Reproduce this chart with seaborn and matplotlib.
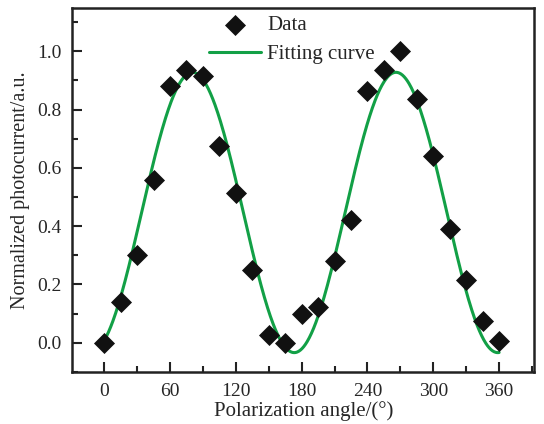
import numpy as np
import pandas as pd
import matplotlib
matplotlib.use('Agg')
import matplotlib.pyplot as plt
import seaborn as sns
from matplotlib.ticker import MultipleLocator

# measured points
angle = [0, 15, 30, 45, 60, 75, 90, 105, 120, 135, 150, 165,
         180, 195, 210, 225, 240, 255, 270, 285, 300, 315, 330, 345, 360]
photocurrent = [0.0, 0.14, 0.30, 0.56, 0.88, 0.935, 0.915, 0.675, 0.514, 0.25, 0.028, 0.0,
                0.10, 0.123, 0.28, 0.42, 0.863, 0.935, 1.0, 0.835, 0.64, 0.39, 0.215, 0.076, 0.005]

# fitting curve parameters: y = y0 + A*cos(2*pi*(x - xc)/w)
fit_y0 = 0.447
fit_A = 0.481
fit_xc = 80.5
fit_w = 185.5

sns.set_style('ticks')
plt.rcParams['font.family'] = ['Liberation Serif', 'DejaVu Serif']
plt.rcParams['mathtext.default'] = 'regular'
plt.rcParams['xtick.direction'] = 'in'
plt.rcParams['ytick.direction'] = 'in'
plt.rcParams['axes.spines.top'] = True
plt.rcParams['axes.spines.right'] = True

df = pd.DataFrame({'angle': angle, 'pc': photocurrent})
xf = np.linspace(0, 360, 721)
fit = pd.DataFrame({'angle': xf, 'pc': fit_y0 + fit_A * np.cos(2 * np.pi * (xf - fit_xc) / fit_w)})

fig, ax = plt.subplots(figsize=(5.44, 4.24), dpi=100)
fig.subplots_adjust(left=0.133, right=0.982, top=0.982, bottom=0.123)

sns.lineplot(data=fit, x='angle', y='pc', ax=ax, color='#12a046', lw=2.2, label='Fitting curve', zorder=2)
sns.scatterplot(data=df, x='angle', y='pc', ax=ax, marker='D', s=115, color='#111111',
                edgecolor='#111111', linewidth=0, label='Data', zorder=3)

ax.set_xlim(-29, 392)
ax.set_ylim(-0.1, 1.15)
ax.xaxis.set_major_locator(MultipleLocator(60))
ax.xaxis.set_minor_locator(MultipleLocator(30))
ax.set_yticks(np.arange(0, 1.01, 0.2))
ax.set_yticks(np.arange(-0.1, 1.15, 0.2), minor=True)
ax.tick_params(which='major', direction='in', length=7, width=1.5, labelsize=14, pad=8,
               top=False, right=False, color='#222222')
ax.tick_params(which='minor', direction='in', length=4, width=1.5, top=False, right=False, color='#222222')
for s in ax.spines.values():
    s.set_visible(True)
    s.set_linewidth(1.8)
    s.set_color('#222222')

ax.set_xlabel('Polarization angle/(°)', fontsize=15, labelpad=1)
ax.set_ylabel('Normalized photocurrent/a.u.', fontsize=14.5, labelpad=5)

h, l = ax.get_legend_handles_labels()
ax.legend([h[1], h[0]], [l[1], l[0]], loc='upper center', bbox_to_anchor=(0.475, 1.03),
          frameon=False, fontsize=15, handlelength=2.5, handletextpad=0.3, labelspacing=0.45)

fig.savefig('out.png', dpi=100)
